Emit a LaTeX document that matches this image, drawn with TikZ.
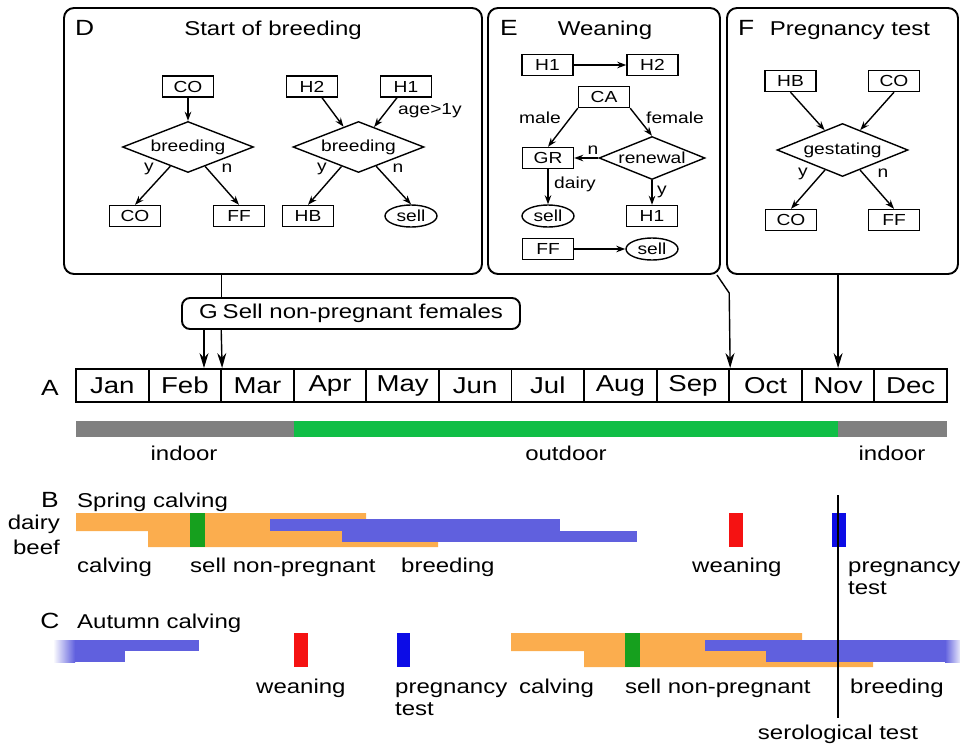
\documentclass[tikz,border=0pt]{standalone}
\usepackage{fontspec}
\setmainfont{Liberation Sans}[FakeStretch=1.2]
\usetikzlibrary{shapes.geometric,arrows.meta,calc}
\definecolor{orng}{RGB}{251,173,78}
\definecolor{peri}{RGB}{96,96,222}
\definecolor{sgreen}{RGB}{22,160,30}
\definecolor{ogreen}{RGB}{16,190,70}
\definecolor{greybar}{RGB}{128,128,128}
\definecolor{wred}{RGB}{245,18,18}
\definecolor{pblue}{RGB}{12,12,230}
\newcommand\fsz[1]{\fontsize{#1}{#1}\selectfont}
\tikzset{
  box/.style={draw, line width=1.4pt, rectangle, minimum width=51pt, minimum height=21pt, inner sep=0pt, font=\fsz{16}},
  ell/.style={draw, line width=1.4pt, ellipse, minimum width=52pt, minimum height=22pt, inner sep=0pt, font=\fsz{16}},
  dia/.style={draw, line width=1.4pt, diamond, aspect=2.5, inner sep=0pt, font=\fsz{16}},
  lab/.style={inner sep=0pt, font=\fsz{16}},
  arr/.style={line width=1.4pt, -{Stealth[length=9pt,width=6.5pt]}},
  bigarr/.style={line width=1.4pt, -{Stealth[length=15pt,width=9pt]}},
  plain/.style={line width=1.4pt},
  panel/.style={draw, line width=1.9pt, rounded corners=10pt, inner sep=0pt},
  month/.style={draw, line width=1.9pt, minimum width=72.58pt, minimum height=33pt, inner sep=0pt, font=\fsz{23}},
  txt/.style={inner sep=0pt, font=\fsz{20}, anchor=base},
  big/.style={inner sep=0pt, font=\fsz{22}, anchor=base},
}
\begin{document}
\begin{tikzpicture}[x=1pt,y=-1pt]
\useasboundingbox (0,0) rectangle (960,744);

% ---------------- panels
\node[panel, minimum width=418pt, minimum height=266pt] (pD) at (273,141) {};
\node[panel, minimum width=232pt, minimum height=266pt] (pE) at (604,141) {};
\node[panel, minimum width=231pt, minimum height=266pt] (pF) at (842.5,141) {};

% ---------------- D
\node[big, anchor=base west] (lD) at (75,35) {D};
\node[txt] (tD) at (273,35) {Start of breeding};
\node[box] (co1) at (188,86.5) {CO};
\node[dia, minimum width=131pt, minimum height=51pt] (d1) at (188,147) {breeding};
\node[box] (co2) at (135,216) {CO};
\node[box] (ff1) at (239,216) {FF};
\node[box] (h2) at (312,86.5) {H2};
\node[box] (h1) at (406,86.5) {H1};
\node[dia, minimum width=131pt, minimum height=51pt] (d2) at (358.5,147) {breeding};
\node[box] (hb) at (308,216) {HB};
\node[ell] (sell1) at (411,216) {sell};
\node[lab] (y1) at (149,169) {y};
\node[lab] (n1) at (227,168) {n};
\node[lab] (y2) at (322,169) {y};
\node[lab] (n2) at (398,168) {n};
\node[lab] (age) at (430,111) {age>1y};
\draw[arr] (co1.south) -- (d1.north);
\draw[arr] (d1) -- (co2.north);
\draw[arr] (d1) -- (ff1.north);
\draw[arr] ([xshift=10pt]h2.south) -- (d2);
\draw[arr] ([xshift=-9pt]h1.south) -- (d2);
\draw[arr] (d2) -- (hb.north);
\draw[arr] (d2) -- (sell1.north);

% ---------------- E
\node[big, anchor=base west] (lE) at (500,35) {E};
\node[txt] (tE) at (605,35) {Weaning};
\node[box] (eh1) at (547.5,65) {H1};
\node[box] (eh2) at (652.5,65) {H2};
\node[box] (ca) at (604,97) {CA};
\node[box] (gr) at (548,158) {GR};
\node[dia, aspect=2.45, minimum width=106pt, minimum height=43pt] (ren) at (652,158) {renewal};
\node[ell] (sell2) at (548,216) {sell};
\node[box] (eh1b) at (652,216) {H1};
\node[box] (ff2) at (548,249) {FF};
\node[ell] (sell3) at (652,249) {sell};
\node[lab] (male) at (540,118) {male};
\node[lab] (female) at (675,118) {female};
\node[lab] (n3) at (593,150) {n};
\node[lab] (dairy1) at (575,184) {dairy};
\node[lab] (y3) at (662,192) {y};
\draw[arr] (eh1.east) -- (eh2.west);
\draw[arr] (ca.south west) -- (gr.north);
\draw[arr] (ca.south east) -- (ren.north);
\draw[arr] (ren.west) -- (gr.east);
\draw[arr] (gr.south) -- (sell2.north);
\draw[arr] (ren.south) -- (eh1b.north);
\draw[arr] (ff2.east) -- (sell3.west);

% ---------------- F
\node[big, anchor=base west] (lF) at (738,35) {F};
\node[txt] (tF) at (850,35) {Pregnancy test};
\node[box] (fhb) at (790.5,81) {HB};
\node[box] (fco) at (894,81) {CO};
\node[dia, minimum width=131pt, minimum height=53pt] (gest) at (842.5,150) {gestating};
\node[box] (fco2) at (791,220) {CO};
\node[box] (fff) at (894,220) {FF};
\node[lab] (y4) at (803,174) {y};
\node[lab] (n4) at (883,173) {n};
\draw[arr] (fhb.south) -- (gest);
\draw[arr] (fco.south) -- (gest);
\draw[arr] (gest) -- (fco2.north);
\draw[arr] (gest) -- (fff.north);

% ---------------- A: months
\node[big] (lA) at (50,395) {A};
\foreach \m [count=\i] in {Jan,Feb,Mar,Apr,May,Jun,Jul,Aug,Sep,Oct,Nov,Dec}
  \node[month] (m\i) at ({76+72.58*(\i-0.5)},385.5) {\m};

% G box and connectors
\coordinate (xd) at (221.2,0);
\coordinate (xg) at (204,0);
\node[draw, fill=white, line width=1.9pt, rounded corners=8pt, minimum width=338pt, minimum height=31pt, inner sep=0pt, font=\fsz{20}] (G) at (351,313.5) {G\hspace{5pt}Sell non-pregnant females};
\draw[plain] (pD.south -| xd) -- (G.north -| xd);
\draw[bigarr] (G.south -| xd) -- (m2.north east);
\draw[bigarr] (G.south -| xg) -- (m2.north -| xg);
\coordinate (eb) at (729.2,293);
\draw[bigarr] ($(pE.south east)+(-4,0)$) -- (eb) -- (m9.north east);
\draw[bigarr] (pF.south -| m11.north) -- (m11.north);

% housing bar
\fill[greybar] (76,421) rectangle (293.7,437);
\fill[ogreen] (293.7,421) rectangle (838,437);
\fill[greybar] (838,421) rectangle (947,437);
\node[txt] (in1) at (184,460) {indoor};
\node[txt] (out1) at (566,460) {outdoor};
\node[txt] (in2) at (892,460) {indoor};

% ---------------- B: spring calving
\node[big] (lB) at (50,507) {B};
\node[txt, anchor=base west] (tB) at (77,507) {Spring calving};
\node[txt, anchor=base east] (dairy) at (60,529) {dairy};
\node[txt, anchor=base east] (beef) at (60,554) {beef};
\fill[orng] (76,513) -- (366,513) -- (366,531) -- (438,531) -- (438,547) -- (148,547) -- (148,531) -- (76,531) -- cycle;
\fill[peri] (270,519) rectangle (560,531);
\fill[peri] (342,531) rectangle (637,542);
\fill[sgreen] (190,513) rectangle (205,547);
\fill[wred] (729,513) rectangle (743,547);
\fill[pblue] (832,513) rectangle (846,547);
\node[txt, anchor=base west] (bc) at (77,572) {calving};
\node[txt, anchor=base west] (bs) at (190,572) {sell non-pregnant};
\node[txt, anchor=base west] (bb) at (401,572) {breeding};
\node[txt, anchor=base west] (bw) at (692,572) {weaning};
\node[txt, anchor=base west] (bp) at (848,572) {pregnancy};
\node[txt, anchor=base west] (bt) at (848,594) {test};

% ---------------- C: autumn calving
\node[big] (lC) at (50,628) {C};
\node[txt, anchor=base west] (tC) at (77,628) {Autumn calving};
\shade[left color=white, right color=peri] (53,640) rectangle (75,662);
\fill[peri] (75,640) rectangle (199,651);
\fill[peri] (75,651) rectangle (125,662);
\fill[wred] (294,633) rectangle (308,667);
\fill[pblue] (397,633) rectangle (410,667);
\fill[orng] (511,633) -- (802,633) -- (802,651) -- (873,651) -- (873,667) -- (584,667) -- (584,651) -- (511,651) -- cycle;
\fill[peri] (705,640) rectangle (945,651);
\fill[peri] (766,651) rectangle (945,662);
\shade[left color=peri, right color=peri!15] (945,640) rectangle (960,662);
\fill[sgreen] (625,633) rectangle (640,667);
\node[txt, anchor=base west] (cw) at (256,693) {weaning};
\node[txt, anchor=base west] (cp) at (395,693) {pregnancy};
\node[txt, anchor=base west] (ct) at (395,715) {test};
\node[txt, anchor=base west] (cc) at (519,693) {calving};
\node[txt, anchor=base west] (cs) at (625,693) {sell non-pregnant};
\node[txt, anchor=base west] (cb) at (850,693) {breeding};
\node[txt] (sero) at (838,739) {serological test};

% serological test line
\coordinate (lt) at (838,495);
\coordinate (lb) at (838,718);
\draw[plain] (lt) -- (lb);
\end{tikzpicture}
\end{document}
